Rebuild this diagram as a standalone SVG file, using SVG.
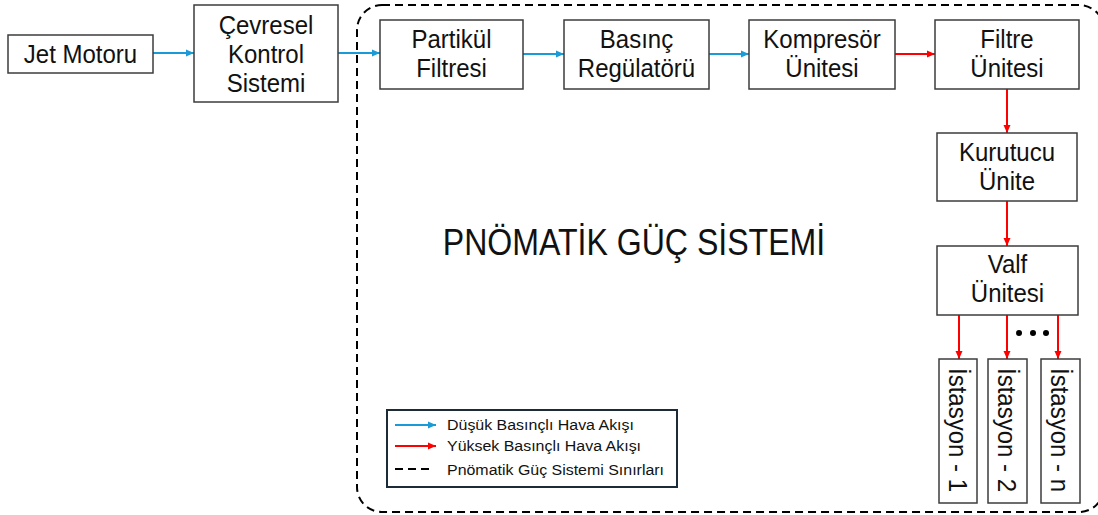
<svg xmlns="http://www.w3.org/2000/svg" width="1098" height="515" viewBox="0 0 1098 515">
<style>
.box{fill:#fff;stroke:#3c3c3c;stroke-width:1.5}
.t{font-family:"Liberation Sans",Arial,sans-serif;font-size:25px;fill:#111;text-anchor:middle}
.lg{font-family:"Liberation Sans",Arial,sans-serif;font-size:14.5px;fill:#111}
.blue{stroke:#1a9ad6;stroke-width:2;fill:none}
.red{stroke:#ff0000;stroke-width:2;fill:none}
.bound{fill:none;stroke:#000;stroke-width:2;stroke-dasharray:8 5}
</style>
<defs>
<marker id="ab" markerUnits="userSpaceOnUse" markerWidth="9" markerHeight="8" refX="8" refY="4" orient="auto"><path d="M0,0.5 L8,4 L0,7.5 z" fill="#1a9ad6"/></marker>
<marker id="ar" markerUnits="userSpaceOnUse" markerWidth="9" markerHeight="8" refX="8" refY="4" orient="auto"><path d="M0,0.5 L8,4 L0,7.5 z" fill="#ff0000"/></marker>
</defs>
<rect class="bound" x="357" y="5" width="747" height="507" rx="25" ry="25"/>
<g id="title"><text class="t" transform="translate(634,255) scale(0.867,1)" style="font-size:37px">PNÖMATİK GÜÇ SİSTEMİ</text></g>
<g id="connectors">
<line class="blue" x1="153" y1="53" x2="194" y2="53" marker-end="url(#ab)"/>
<line class="blue" x1="338" y1="53" x2="380" y2="53" marker-end="url(#ab)"/>
<line class="blue" x1="523" y1="54" x2="564" y2="54" marker-end="url(#ab)"/>
<line class="blue" x1="709" y1="54" x2="749" y2="54" marker-end="url(#ab)"/>
<line class="red" x1="895" y1="54" x2="935" y2="54" marker-end="url(#ar)"/>
<line class="red" x1="1007" y1="89" x2="1007" y2="133" marker-end="url(#ar)"/>
<line class="red" x1="1007" y1="201" x2="1007" y2="246" marker-end="url(#ar)"/>
<line class="red" x1="959" y1="315" x2="959" y2="359" marker-end="url(#ar)"/>
<line class="red" x1="1007" y1="315" x2="1007" y2="359" marker-end="url(#ar)"/>
<line class="red" x1="1058" y1="315" x2="1058" y2="359" marker-end="url(#ar)"/>
</g>
<g id="jet"><rect class="box" x="8" y="35" width="145" height="38"/><text class="t" transform="translate(80.5,63) scale(0.96,1)">Jet Motoru</text></g>
<g id="cevresel"><rect class="box" x="194" y="5" width="144" height="97"/><text class="t" transform="translate(266,34) scale(0.96,1)"><tspan x="0" y="0">Çevresel</tspan><tspan x="0" y="29">Kontrol</tspan><tspan x="0" y="58">Sistemi</tspan></text></g>
<g id="partikul"><rect class="box" x="380" y="20" width="143" height="69"/><text class="t" transform="translate(451.5,48) scale(0.96,1)"><tspan x="0" y="0">Partikül</tspan><tspan x="0" y="29">Filtresi</tspan></text></g>
<g id="basinc"><rect class="box" x="564" y="20" width="145" height="69"/><text class="t" transform="translate(636.5,48) scale(0.96,1)"><tspan x="0" y="0">Basınç</tspan><tspan x="0" y="29">Regülatörü</tspan></text></g>
<g id="kompresor"><rect class="box" x="749" y="20" width="146" height="69"/><text class="t" transform="translate(822,48) scale(0.96,1)"><tspan x="0" y="0">Kompresör</tspan><tspan x="0" y="29">Ünitesi</tspan></text></g>
<g id="filtre"><rect class="box" x="935" y="20" width="144" height="69"/><text class="t" transform="translate(1007,48) scale(0.96,1)"><tspan x="0" y="0">Filtre</tspan><tspan x="0" y="29">Ünitesi</tspan></text></g>
<g id="kurutucu"><rect class="box" x="937" y="133" width="140" height="68"/><text class="t" transform="translate(1007,161) scale(0.96,1)"><tspan x="0" y="0">Kurutucu</tspan><tspan x="0" y="29">Ünite</tspan></text></g>
<g id="valf"><rect class="box" x="937" y="246" width="141" height="69"/><text class="t" transform="translate(1007.5,273) scale(0.96,1)"><tspan x="0" y="0">Valf</tspan><tspan x="0" y="29">Ünitesi</tspan></text></g>
<g id="ist1"><rect class="box" x="939" y="359" width="38" height="144"/><text class="t" transform="translate(949,430) rotate(90) scale(0.96,1)">İstasyon - 1</text></g>
<g id="ist2"><rect class="box" x="988" y="359" width="39" height="144"/><text class="t" transform="translate(998,430) rotate(90) scale(0.96,1)">İstasyon - 2</text></g>
<g id="istn"><rect class="box" x="1041" y="359" width="39" height="144"/><text class="t" transform="translate(1051,430) rotate(90) scale(0.96,1)">İstasyon - n</text></g>
<g id="dots" fill="#000"><circle cx="1019" cy="333" r="3"/><circle cx="1033" cy="333" r="3"/><circle cx="1046" cy="333" r="3"/></g>
<g id="legend">
<rect x="387" y="410" width="290" height="77" fill="#fff" stroke="#1c2b38" stroke-width="2"/>
<line class="blue" x1="395" y1="425" x2="436" y2="425" marker-end="url(#ab)"/>
<line class="red" x1="395" y1="446" x2="436" y2="446" marker-end="url(#ar)"/>
<line x1="395" y1="469" x2="433" y2="469" stroke="#000" stroke-width="2" stroke-dasharray="8 5"/>
<text class="lg" transform="translate(447,430) scale(1.1,1)">Düşük Basınçlı Hava Akışı</text>
<text class="lg" transform="translate(447,451) scale(1.1,1)">Yüksek Basınçlı Hava Akışı</text>
<text class="lg" transform="translate(447,475) scale(1.1,1)">Pnömatik Güç Sistemi Sınırları</text>
</g>
</svg>
